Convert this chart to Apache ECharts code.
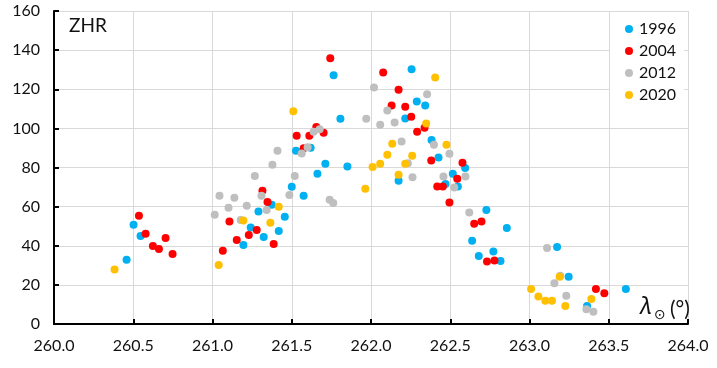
<!DOCTYPE html>
<html>
<head>
<meta charset="utf-8">
<script src="https://cdn.jsdelivr.net/npm/echarts@6/dist/echarts.min.js"></script>
<style>
html,body{margin:0;padding:0;background:#fff;}
#chart{width:717px;height:368px;}
</style>
</head>
<body>
<div id="chart"></div>
<script>
// Solar longitude (deg) and ZHR for each year
const seriesNames = ['1996', '2004', '2012', '2020'];
const colors = ['#00B0F0', '#FF0000', '#BFBFBF', '#FFC000'];

const lon1996 = [260.458,260.502,260.546,261.195,261.241,261.290,261.323,261.374,261.418,261.456,261.500,261.527,261.575,261.619,261.662,261.712,261.764,261.807,261.851,262.174,262.216,262.256,262.289,262.342,262.382,262.426,262.470,262.516,262.548,262.594,262.638,262.680,262.728,262.772,262.817,262.857,263.174,263.247,263.363,263.608];
const zhr1996 = [32.9,50.7,45.0,40.4,49.3,57.5,44.5,60.9,47.6,54.8,70.1,88.5,65.5,90.1,76.8,81.9,127.1,104.9,80.5,73.2,105.1,130.2,113.8,111.7,94.0,85.1,71.6,76.8,70.3,79.7,42.6,34.8,58.3,37.0,32.2,49.1,39.4,24.2,9.2,17.9];

const lon2004 = [260.536,260.578,260.624,260.662,260.704,260.748,261.065,261.107,261.153,261.229,261.279,261.315,261.347,261.386,261.531,261.575,261.611,261.655,261.701,261.743,262.077,262.130,262.174,262.216,262.254,262.291,262.338,262.380,262.418,262.453,262.495,262.544,262.577,262.651,262.697,262.732,262.779,263.419,263.472];
const zhr2004 = [55.3,46.1,39.9,38.4,44.0,35.8,37.4,52.4,43.0,45.5,48.1,68.1,62.4,40.9,96.2,89.8,96.2,100.7,97.7,135.8,128.6,111.7,119.8,111.1,105.9,98.3,100.3,83.6,70.3,70.3,62.1,74.2,82.4,51.3,52.4,31.9,32.4,17.9,15.7];

const lon2012 = [261.014,261.044,261.101,261.138,261.178,261.216,261.267,261.309,261.342,261.378,261.410,261.485,261.519,261.563,261.600,261.638,261.676,261.739,261.762,261.970,262.019,262.058,262.103,262.149,262.193,262.233,262.262,262.354,262.397,262.457,262.495,262.525,262.596,262.620,263.111,263.157,263.194,263.232,263.359,263.403];
const zhr2012 = [55.9,65.5,59.4,64.5,53.2,60.4,75.7,65.5,58.3,81.4,88.5,66.0,75.7,87.2,90.3,98.3,99.6,63.5,61.8,104.9,120.9,101.8,109.2,103.0,93.3,82.2,75.0,117.5,91.6,75.4,87.0,69.8,75.4,57.0,38.9,20.8,24.7,14.5,7.5,6.3];

const lon2020 = [260.382,261.039,261.195,261.365,261.418,261.510,261.964,262.010,262.058,262.103,262.134,262.174,262.216,262.260,262.348,262.405,262.476,263.010,263.056,263.100,263.142,263.190,263.226,263.390];
const zhr2020 = [27.8,30.2,52.9,51.8,59.9,108.7,69.1,80.2,81.9,86.5,92.1,76.3,81.9,86.0,102.5,126.0,91.6,17.9,14.0,11.9,11.9,24.2,9.2,12.8];

const xTicks = [260.0,260.5,261.0,261.5,262.0,262.5,263.0,263.5,264.0];
const yTicks = [0,20,40,60,80,100,120,140,160];

const lons = [lon1996, lon2004, lon2012, lon2020];
const zhrs = [zhr1996, zhr2004, zhr2012, zhr2020];

const FONT = 'Lato';
const chart = echarts.init(document.getElementById('chart'), null, {renderer: 'canvas'});

const series = seriesNames.map((name, i) => ({
  name: name,
  type: 'scatter',
  symbol: 'circle',
  symbolSize: 8,
  itemStyle: {color: colors[i], opacity: 1},
  emphasis: {disabled: true},
  data: lons[i].map((x, k) => [x, zhrs[i][k]])
}));

chart.setOption({
  animation: false,
  textStyle: {fontFamily: FONT},
  grid: {left: 54, right: 29, top: 11, bottom: 44, containLabel: false},
  xAxis: {
    type: 'value',
    min: xTicks[0],
    max: xTicks[xTicks.length - 1],
    interval: 0.5,
    axisLine: {show: true, onZero: false, lineStyle: {color: '#000', width: 2}},
    axisTick: {show: true, inside: true, length: 5, lineStyle: {color: '#000', width: 2}},
    axisLabel: {color: '#111', fontSize: 16, fontFamily: FONT, margin: 14,
      formatter: v => v.toFixed(1)},
    splitLine: {show: true, lineStyle: {color: '#D9D9D9', width: 1}}
  },
  yAxis: {
    type: 'value',
    min: yTicks[0],
    max: yTicks[yTicks.length - 1],
    interval: 20,
    axisLine: {show: true, lineStyle: {color: '#000', width: 2}},
    axisTick: {show: true, inside: true, length: 5, lineStyle: {color: '#000', width: 2}},
    axisLabel: {color: '#111', fontSize: 16, fontFamily: FONT, margin: 14},
    splitLine: {show: true, lineStyle: {color: '#D9D9D9', width: 1}}
  },
  legend: {
    orient: 'vertical',
    left: 610,
    top: 13,
    padding: [8, 8, 8, 15],
    itemGap: 6,
    itemWidth: 8,
    itemHeight: 8,
    icon: 'circle',
    backgroundColor: '#fff',
    textStyle: {color: '#111', fontSize: 16, fontFamily: FONT, padding: [0, 0, 0, 1]},
    data: seriesNames
  },
  graphic: [
    {type: 'text', left: 69, top: 16, z: 100,
      style: {text: 'ZHR', font: '19px Lato', fill: '#111'}},
    {type: 'text', x: 640, y: 307, z: 100,
      style: {text: 'λ', font: 'italic 23px "Noto Sans"', fill: '#111', textVerticalAlign: 'middle'}},
    {type: 'text', x: 654, y: 315, z: 100,
      style: {text: '⊙', font: 'italic 14px "DejaVu Sans"', fill: '#111', textVerticalAlign: 'middle'}},
    {type: 'text', x: 670, y: 309, z: 100,
      style: {text: '(°)', font: '21px Lato', fill: '#111', textVerticalAlign: 'middle'}}
  ],
  series: series
});
</script>
</body>
</html>
